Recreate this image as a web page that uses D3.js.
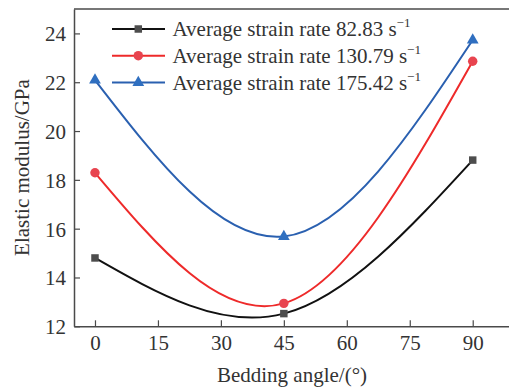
<!DOCTYPE html>
<html><head><meta charset="utf-8">
<script src="https://cdn.jsdelivr.net/npm/d3@7"></script>
<style>
html,body{margin:0;padding:0;background:#fff;}
svg text{font-family:"Liberation Serif","Times New Roman",serif;fill:#333;}
</style></head>
<body><div id="chart"></div>
<script>
const angles = [0, 45, 90];
const rate82 = [14.8, 12.52, 18.81];
const rate130 = [18.29, 12.94, 22.86];
const rate175 = [22.09, 15.68, 23.73];
const seriesNames = ["Average strain rate 82.83 s", "Average strain rate 130.79 s", "Average strain rate 175.42 s"];
const xTicks = [0, 15, 30, 45, 60, 75, 90];
const yTicks = [12, 14, 16, 18, 20, 22, 24];

(function () {
const W = 509, H = 389;
const svg = d3.select("#chart").append("svg").attr("width", W).attr("height", H);
const mLeft = 74, mTop = 9, mBottom = 326.3;
const x = d3.scaleLinear().domain([-5, 100]).range([mLeft, mLeft + 105 * 4.197]);
const y = d3.scaleLinear().domain([12, 25]).range([mBottom, mTop]);
const axisColor = "#4a4a4a";

const series = [
  {name: seriesNames[0], vals: rate82, line: "#111", fill: "#4d4d4d", shape: d3.symbolSquare, size: 56},
  {name: seriesNames[1], vals: rate130, line: "#ee2a2a", fill: "#e8444f", shape: d3.symbolCircle, size: 70},
  {name: seriesNames[2], vals: rate175, line: "#2a60b0", fill: "#2f6fc0", shape: d3.symbolTriangle, size: 60}
];

svg.append("line").attr("x1", mLeft).attr("x2", W).attr("y1", mTop).attr("y2", mTop)
  .attr("stroke", axisColor).attr("stroke-width", 1.5);

const gx = svg.append("g").attr("transform", `translate(0,${mBottom})`)
  .call(d3.axisBottom(x).tickValues(xTicks).tickSizeInner(-6).tickSizeOuter(0).tickPadding(0));
gx.select(".domain").attr("stroke", axisColor).attr("stroke-width", 1.5);
gx.selectAll(".tick line").attr("stroke", axisColor).attr("stroke-width", 1.2);
gx.selectAll(".tick text").attr("font-size", 21).attr("fill", "#333").attr("dy", "23.5")
  .style("font-family", "'Liberation Serif',serif");

const gy = svg.append("g").attr("transform", `translate(${mLeft},0)`)
  .call(d3.axisLeft(y).tickValues(yTicks).tickSizeInner(-6).tickSizeOuter(0).tickPadding(8));
gy.select(".domain").attr("stroke", axisColor).attr("stroke-width", 1.5);
gy.selectAll(".tick line").attr("stroke", axisColor).attr("stroke-width", 1.2);
gy.selectAll(".tick text").attr("font-size", 21).attr("fill", "#333").attr("dy", "0.35em")
  .style("font-family", "'Liberation Serif',serif");

svg.append("text").attr("x", 292).attr("y", 382).attr("text-anchor", "middle")
  .attr("font-size", 21).text("Bedding angle/(°)");
svg.append("text").attr("transform", "translate(29,167.5) rotate(-90)").attr("text-anchor", "middle")
  .attr("font-size", 21).text("Elastic modulus/GPa");

const lineGen = d3.line().x((d, i) => x(angles[i])).y(d => y(d)).curve(d3.curveNatural);
series.forEach(s => {
  svg.append("path").datum(s.vals).attr("d", lineGen).attr("fill", "none")
    .attr("stroke", s.line).attr("stroke-width", 2);
});
series.forEach(s => {
  svg.selectAll(null).data(s.vals).enter().append("path")
    .attr("d", d3.symbol().type(s.shape).size(s.size))
    .attr("transform", (d, i) => `translate(${x(angles[i])},${y(d)})`)
    .attr("fill", s.fill);
});

const legY = [29, 55.7, 82.5];
series.forEach((s, i) => {
  const g = svg.append("g").attr("transform", `translate(0,${legY[i]})`);
  g.append("line").attr("x1", 112).attr("x2", 165).attr("y1", 0).attr("y2", 0)
    .attr("stroke", s.line).attr("stroke-width", 2);
  g.append("path").attr("d", d3.symbol().type(s.shape).size(s.size))
    .attr("transform", "translate(138.3,0)").attr("fill", s.fill);
  const t = g.append("text").attr("x", 172.5).attr("y", 7).attr("font-size", 21).text(s.name);
  t.append("tspan").attr("font-size", 13).attr("dy", -9).text("−1");
});
})();
</script>
</body></html>
